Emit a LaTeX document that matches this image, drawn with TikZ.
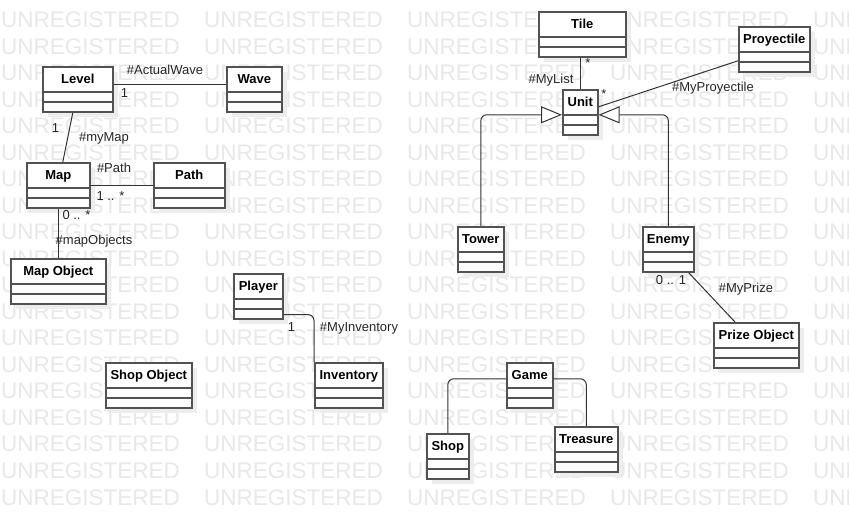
\documentclass[tikz,border=0pt]{standalone}
\usepackage{fontspec}
\setmainfont{Liberation Sans}
\usetikzlibrary{arrows.meta,shadows,positioning}
\tikzset
{
    classbox/.style  = {draw=black!68, line width=1.6pt, fill=white, anchor=north west,
                        minimum height=45pt, inner xsep=2pt, inner ysep=0pt,
                        text height=16.5pt, text depth=28.5pt,
                        font=\bfseries\fontsize{13}{13}\selectfont,
                        drop shadow={shadow xshift=5pt, shadow yshift=-5pt, fill=black!7, opacity=1},
                        path picture={
                          \draw[draw=black!68, line width=1.6pt]
                            ([yshift=-25pt]path picture bounding box.north west) -- ([yshift=-25pt]path picture bounding box.north east)
                            ([yshift=-35pt]path picture bounding box.north west) -- ([yshift=-35pt]path picture bounding box.north east);}},
    assoc/.style     = {draw=black!80, line width=1pt},
    inherit/.style   = {assoc, rounded corners=6pt, -{Triangle[open, length=21pt, width=17pt, fill=white]}},
    role/.style      = {font=\fontsize{13}{13}\selectfont, inner sep=0pt, text=black!85, text height=9.5pt, text depth=2.5pt},
    watermark/.style = {anchor=base west, inner sep=0pt, text=black!9, font=\fontsize{22.5}{22.5}\selectfont}
}
\begin{document}
\begin{tikzpicture}[x=1pt, y=-1pt]
\useasboundingbox[fill=white] (0,0) rectangle (849,518);
% watermark
\foreach \r in {0,...,18}
  \foreach \c in {0,...,4}
    \node(wm-\r-\c) [watermark] at (1+203*\c, 28+26.5*\r) {UNREGISTERED};
% classes
\node(level) [classbox, minimum width=70pt] at (42,66) {Level};
\node(wave) [classbox, minimum width=55pt] at (226,66) {Wave};
\node(map) [classbox, minimum width=63pt] at (26,162) {Map};
\node(pth) [classbox, minimum width=71pt] at (153,162) {Path};
\node(mapobj) [classbox, minimum width=95pt] at (10,258) {Map Object};
\node(player) [classbox, minimum width=49pt] at (233,273) {Player};
\node(inventory) [classbox, minimum width=68pt] at (314,362) {Inventory};
\node(shopobj) [classbox, minimum width=86pt] at (105,362) {Shop Object};
\node(tile) [classbox, minimum width=87pt] at (538,11) {Tile};
\node(proyectile) [classbox, minimum width=71pt] at (738,26) {Proyectile};
\node(unit) [classbox, minimum width=35pt] at (562,89) {Unit};
\node(tower) [classbox, minimum width=46pt] at (457,226) {Tower};
\node(enemy) [classbox, minimum width=51pt] at (642,226) {Enemy};
\node(prize) [classbox, minimum width=85pt] at (713,322) {Prize Object};
\node(game) [classbox, minimum width=46pt] at (506,362) {Game};
\node(shop) [classbox, minimum width=42pt] at (426,433) {Shop};
\node(treasure) [classbox, minimum width=63pt] at (554,426) {Treasure};
% associations
\draw[assoc] ([yshift=4.5pt]level.east) -- ([yshift=4.5pt]wave.west);
\draw[assoc] ([xshift=-5pt]level.south) -- ([xshift=4.5pt]map.north);
\draw[assoc] (map.east) -- (pth.west);
\draw[assoc] (map.south) -- (mapobj.north);
\draw[assoc, rounded corners=6pt] ([yshift=5pt]player.south east) -| (inventory.north west);
\draw[assoc] (unit.north) -- (unit.north |- tile.south);
\draw[assoc] ([yshift=-11.5pt]proyectile.west) -- ([yshift=5.5pt]unit.east);
\draw[assoc] ([xshift=-6pt]enemy.south east) -- ([xshift=22pt]prize.north west);
\draw[assoc, rounded corners=6pt] ([yshift=6.5pt]game.west) -| (shop.north);
\draw[assoc, rounded corners=6pt] ([yshift=6.5pt]game.east) -| (treasure.north);
% generalizations
\draw[inherit] (tower.north) |- ([yshift=-2.5pt]unit.west);
\draw[inherit] (enemy.north) |- ([yshift=-2.5pt]unit.east);
% roles and multiplicities
\node(lw-role) [role] at (165,71) {\#ActualWave};
\node(lw-mult) [role] at (124.5,94) {1};
\node(lm-mult) [role] at (55.5,129) {1};
\node(lm-role) [role] at (104,138) {\#myMap};
\node(mp-role) [role] at (114,169) {\#Path};
\node(mp-mult) [role] at (110.5,197) {1 .. *};
\node(mo-mult) [role] at (76.5,216) {0 .. *};
\node(mo-role) [role] at (94,241) {\#mapObjects};
\node(pi-mult) [role] at (291.5,328) {1};
\node(pi-role) [role] at (359,328) {\#MyInventory};
\node(tu-mult) [role, anchor=base] at (588,68) {*};
\node(tu-role) [role] at (551,80) {\#MyList};
\node(pu-mult) [role, anchor=base] at (604,99) {*};
\node(pu-role) [role] at (713,88) {\#MyProyectile};
\node(ep-mult) [role] at (671,281) {0 .. 1};
\node(ep-role) [role] at (746,289) {\#MyPrize};
\end{tikzpicture}
\end{document}
